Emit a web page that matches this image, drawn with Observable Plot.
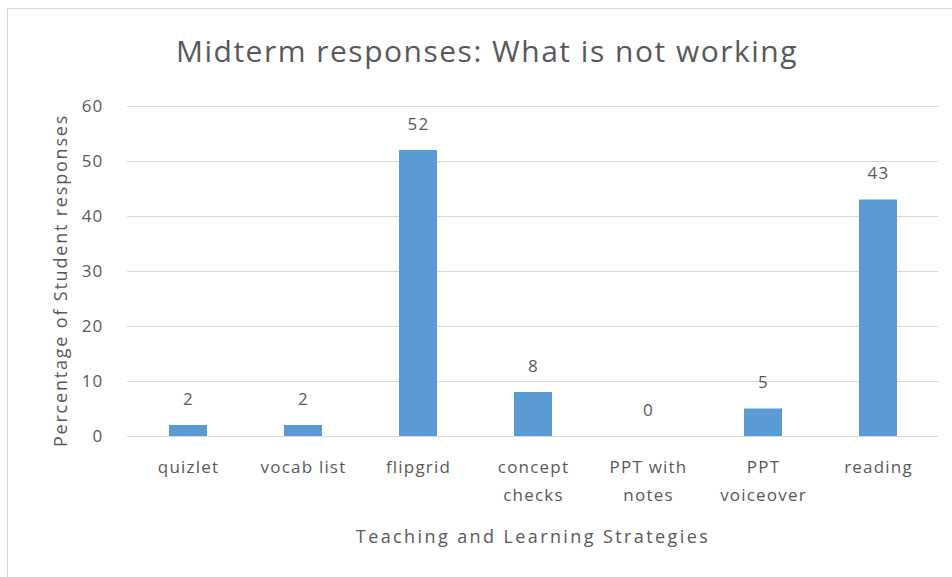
<!DOCTYPE html>
<html>
<head>
<meta charset="utf-8">
<script src="https://cdn.jsdelivr.net/npm/d3@7"></script>
<script src="https://cdn.jsdelivr.net/npm/@observablehq/plot@0.6"></script>
<style>
  body { margin: 0; background: #fff; }
  #frame { position: relative; width: 952px; height: 577px; overflow: hidden; font-family: "Open Sans", Lato, sans-serif; }
  #border { position: absolute; left: 7px; top: 8px; width: 960px; height: 600px; border-left: 1px solid #d9d9d9; border-top: 1px solid #d9d9d9; }
  #title { position: absolute; left: 0; top: 29px; width: 952px; text-align: center; padding-left: 22px; box-sizing: border-box; font-size: 30px; color: #595959; line-height: 44px; letter-spacing: 1.5px; }
  #chart { position: absolute; left: 0; top: 90px; }
  #chart svg text { letter-spacing: 1.2px; }
  #chart svg g[aria-label="x-axis label"] text { font-size: 18px; letter-spacing: 2.4px; }
  #chart svg g[aria-label="y-axis label"] text { font-size: 18px; letter-spacing: 1.8px; }
</style>
</head>
<body>
<div id="frame">
  <div id="border"></div>
  <div id="title">Midterm responses: What is not working</div>
  <div id="chart"></div>
</div>
<script>
const categories = ["quizlet", "vocab list", "flipgrid", "concept\nchecks", "PPT with\nnotes", "PPT\nvoiceover", "reading"];
const values = [2, 2, 52, 8, 0, 5, 43];
const yTicks = [0, 10, 20, 30, 40, 50, 60];

const data = categories.map((c, i) => ({category: c, value: values[i]}));

const gray = "#595959";
const font = "'Open Sans', Lato, sans-serif";
const chart = Plot.plot({
  width: 952,
  height: 487,
  marginTop: 16,
  marginBottom: 141,
  marginLeft: 127,
  marginRight: 14,
  style: {fontFamily: font, fontSize: "17px", color: gray, background: "transparent"},
  x: {domain: categories, paddingInner: 0.67, paddingOuter: 0.335},
  y: {domain: [0, 60]},
  marks: [
    Plot.gridY(yTicks, {stroke: "#d9d9d9", strokeOpacity: 1, strokeWidth: 1}),
    Plot.barY(data, {x: "category", y: "value", fill: "#5b9bd5"}),
    Plot.ruleY([0], {stroke: "#d9d9d9", strokeWidth: 1}),
    Plot.text(data, {x: "category", y: "value", text: d => String(d.value), dy: -26, fill: gray, fontSize: 17}),
    Plot.axisY({ticks: yTicks, tickSize: 0, tickPadding: 24, fill: gray, fontSize: 17,
      label: "Percentage of Student responses", labelAnchor: "center", labelArrow: "none", labelOffset: 73}),
    Plot.axisX({tickSize: 0, tickPadding: 17, fill: gray, fontSize: 17, lineHeight: 1.65,
      label: "Teaching and Learning Strategies", labelAnchor: "center", labelArrow: "none", labelOffset: 106})
  ]
});
d3.select(chart).selectAll('g[aria-label="y-axis label"] text').attr("dx", -9);
document.getElementById("chart").appendChild(chart);
</script>
</body>
</html>
